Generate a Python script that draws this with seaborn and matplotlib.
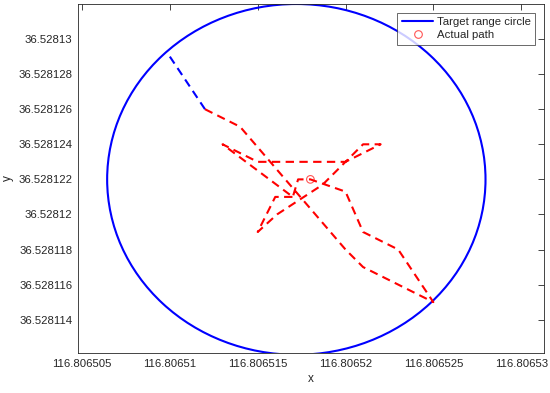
import numpy as np
import pandas as pd
import seaborn as sns
import matplotlib.pyplot as plt
from matplotlib.patches import Ellipse
from matplotlib.lines import Line2D

# ==================== data ====================
# target circle (centre, half-widths in degrees)
circle_center = (116.8065172, 36.528122)
circle_rx = 1.077e-05
circle_ry = 1.0e-05

# first stretch of the track (outside / on the circle edge)
lead_x = [116.80651, 116.806512]
lead_y = [36.528129, 36.528126]

# rest of the track
path_x = [116.806512, 116.806514, 116.80652, 116.806521, 116.806525, 116.806523,
          116.806521, 116.80652, 116.806518, 116.8065173, 116.806517, 116.806513,
          116.806515, 116.80652, 116.806521, 116.806522, 116.80652, 116.8065187,
          116.8065161, 116.806515, 116.806516, 116.806517]
path_y = [36.528126, 36.528125, 36.528118, 36.528117, 36.528115, 36.528118,
          36.528119, 36.5281213, 36.528122, 36.528122, 36.528121, 36.528124,
          36.528123, 36.528123, 36.528124, 36.528124, 36.528123, 36.5281217,
          36.52812, 36.528119, 36.528121, 36.528121]

# centre marker
marker_x = [116.806518]
marker_y = [36.528122]

xticks = [116.806505, 116.80651, 116.806515, 116.80652, 116.806525, 116.80653]
xtick_labels = ["116.806505", "116.80651", "116.806515", "116.80652", "116.806525", "116.80653"]
yticks = [36.528114, 36.528116, 36.528118, 36.52812, 36.528122, 36.528124,
          36.528126, 36.528128, 36.52813]
ytick_labels = ["36.528114", "36.528116", "36.528118", "36.52812", "36.528122",
                "36.528124", "36.528126", "36.528128", "36.52813"]

# ==================== plot ====================
sns.set_style("white")
plt.rcParams['font.family'] = ['Liberation Sans', 'DejaVu Sans']

fig = plt.figure(figsize=(5.5, 3.93), dpi=100)
ax = fig.add_axes([0.1418, 0.1018, 0.8473, 0.888])

ax.add_patch(Ellipse(circle_center, 2 * circle_rx, 2 * circle_ry,
                     fill=False, edgecolor='#0000FF', linewidth=1.5))

dash = (0, (4.0, 2.6))
df_lead = pd.DataFrame({'x': lead_x, 'y': lead_y})
sns.lineplot(data=df_lead, x='x', y='y', sort=False, estimator=None,
             color='#0000FF', linewidth=1.5, linestyle=dash, ax=ax)

df_path = pd.DataFrame({'x': path_x, 'y': path_y})
sns.lineplot(data=df_path, x='x', y='y', sort=False, estimator=None,
             color='#FF0000', linewidth=1.5, linestyle=dash, ax=ax)

df_mark = pd.DataFrame({'x': marker_x, 'y': marker_y})
sns.scatterplot(data=df_mark, x='x', y='y', marker='o', s=30,
                facecolor='none', edgecolor='#FF5555', linewidth=0.8, ax=ax)

ax.set_xlim(116.80650477, 116.8065313)
ax.set_ylim(36.5281121, 36.528132)
ax.set_xticks(xticks)
ax.set_xticklabels(xtick_labels)
ax.set_yticks(yticks)
ax.set_yticklabels(ytick_labels)
ax.tick_params(direction='in', length=4, width=0.6, colors='#262626',
               labelsize=8.2, top=True, right=True, pad=4)
for s in ax.spines.values():
    s.set_color('#262626')
    s.set_linewidth(0.6)

ax.set_xlabel('x', fontsize=8.5, color='#262626', labelpad=3)
ax.set_ylabel('y', fontsize=8.5, color='#262626', labelpad=3)

handles = [Line2D([], [], color='#0000FF', linewidth=1.5),
           Line2D([], [], color='#FF5555', marker='o', linestyle='none',
                  markerfacecolor='none', markersize=5.5, markeredgewidth=0.8)]
leg = ax.legend(handles, ['Target range circle', 'Actual path'], loc='upper right',
                fontsize=8.2, frameon=True, fancybox=False, handlelength=2.8,
                handletextpad=0.3, borderpad=0.4, labelspacing=0.25,
                borderaxespad=0.75)
leg.get_frame().set_edgecolor('#262626')
leg.get_frame().set_linewidth(0.6)

fig.savefig('out.png', dpi=100)
